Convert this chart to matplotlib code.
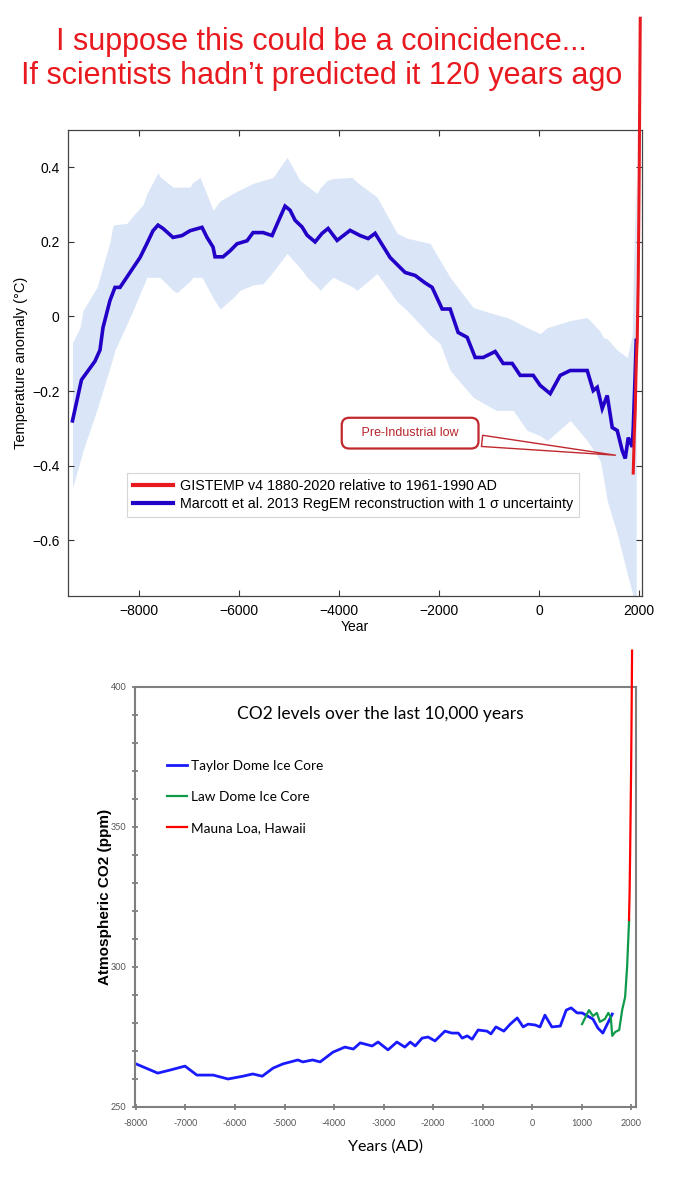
import matplotlib
matplotlib.use("Agg")
import matplotlib.pyplot as plt
import numpy as np

# --- Marcott et al. 2013 reconstruction ---
marcott_year = [-9330, -9150, -8880, -8780, -8720, -8580, -8480, -8380, -8180, -7980,
                -7840, -7720, -7620, -7520, -7320, -7140, -6980, -6740, -6640, -6520,
                -6480, -6320, -6180, -6040, -5840, -5720, -5520, -5340, -5180, -5080,
                -4980, -4880, -4740, -4640, -4480, -4340, -4220, -4040, -3780, -3580,
                -3420, -3280, -2980, -2680, -2480, -2280, -2140, -1940, -1780, -1620,
                -1440, -1280, -1120, -880, -720, -540, -380, -120, 20, 220,
                420, 620, 960, 1080, 1160, 1260, 1360, 1460, 1560, 1660,
                1720, 1780, 1860, 1880, 1920, 1940]
marcott_temp = [-0.28, -0.17, -0.12, -0.09, -0.03, 0.043, 0.078, 0.078, 0.118, 0.158,
                0.196, 0.23, 0.245, 0.236, 0.212, 0.217, 0.23, 0.239, 0.212, 0.186,
                0.16, 0.16, 0.176, 0.195, 0.203, 0.225, 0.225, 0.217, 0.266, 0.296,
                0.285, 0.258, 0.24, 0.218, 0.2, 0.223, 0.236, 0.204, 0.231, 0.217,
                0.209, 0.223, 0.158, 0.118, 0.11, 0.09, 0.078, 0.02, 0.02, -0.043,
                -0.056, -0.11, -0.11, -0.094, -0.126, -0.126, -0.158, -0.158, -0.185, -0.207,
                -0.158, -0.145, -0.145, -0.199, -0.19, -0.247, -0.212, -0.298, -0.306, -0.36,
                -0.381, -0.325, -0.35, -0.30, -0.15, -0.064]

band_year = [-9330, -9180, -9120, -8840, -8580, -8520, -8480, -8240, -8120, -7920,
             -7840, -7620, -7580, -7320, -7240, -6980, -6920, -6780, -6740, -6520,
             -6380, -6120, -5980, -5720, -5520, -5320, -5040, -4780, -4640, -4440,
             -4380, -4240, -4120, -3740, -3640, -3240, -2840, -2640, -2180, -1980,
             -1780, -1320, -860, -640, -520, -240, 20, 160, 620, 960,
             1220, 1280, 1360, 1560, 1760, 1860, 1880, 1920, 1940]
band_upper = [-0.07, -0.03, 0.016, 0.078, 0.20, 0.244, 0.246, 0.25, 0.27, 0.30,
              0.33, 0.386, 0.375, 0.347, 0.347, 0.347, 0.36, 0.373, 0.36, 0.285,
              0.31, 0.33, 0.34, 0.357, 0.365, 0.373, 0.427, 0.365, 0.35, 0.33,
              0.345, 0.365, 0.37, 0.373, 0.36, 0.32, 0.223, 0.21, 0.196, 0.15,
              0.105, 0.024, 0.005, -0.003, -0.01, -0.03, -0.046, -0.03, -0.011, -0.003,
              -0.04, -0.056, -0.06, -0.09, -0.11, -0.05, 0.105, 0.30, 0.373]
band_lower = [-0.46, -0.39, -0.36, -0.25, -0.137, -0.11, -0.09, -0.02, 0.016, 0.08,
              0.105, 0.105, 0.105, 0.07, 0.064, 0.095, 0.105, 0.105, 0.105, 0.05,
              0.02, 0.05, 0.07, 0.085, 0.088, 0.12, 0.169, 0.13, 0.105, 0.08,
              0.07, 0.09, 0.105, 0.08, 0.07, 0.115, 0.04, 0.016, -0.05, -0.073,
              -0.145, -0.217, -0.252, -0.252, -0.252, -0.306, -0.32, -0.333, -0.279, -0.333,
              -0.387, -0.43, -0.494, -0.583, -0.69, -0.74, -0.76, -0.78, -0.78]

# --- GISTEMP v4 (drawn over the top of the axes in the original) ---
gistemp_year = [1880, 1900, 1920, 1940, 1960, 1980, 2000, 2020]
gistemp_temp = [-0.42, -0.32, -0.25, -0.12, -0.06, 0.10, 0.40, 0.80]

# --- CO2 records ---
taylor_year = [-8000, -7560, -7310, -7010, -6770, -6440, -6140, -5840, -5640, -5450,
               -5230, -5030, -4730, -4630, -4430, -4280, -4020, -3780, -3610, -3470,
               -3230, -3110, -2910, -2730, -2570, -2460, -2360, -2220, -2100, -1960,
               -1760, -1620, -1490, -1410, -1310, -1210, -1090, -910, -830, -730,
               -570, -440, -300, -180, -80, 60, 160, 260, 400, 570,
               690, 790, 910, 1010, 1230, 1330, 1430, 1620]
taylor_co2 = [265.4, 262.1, 263.2, 264.6, 261.4, 261.4, 260.0, 261.0, 261.8, 261.0,
              263.9, 265.4, 266.8, 266.1, 266.8, 266.1, 269.6, 271.4, 270.7, 272.9,
              271.8, 273.2, 270.4, 273.2, 271.4, 273.2, 271.8, 274.6, 275.0, 273.6,
              277.1, 276.4, 276.4, 274.6, 275.4, 274.2, 277.5, 277.1, 276.1, 278.6,
              277.1, 279.6, 281.8, 278.6, 279.6, 279.3, 278.6, 282.8, 278.6, 278.9,
              284.6, 285.4, 283.6, 283.6, 281.4, 278.2, 276.4, 283.2]

law_year = [1010, 1150, 1230, 1310, 1370, 1470, 1540, 1590, 1620, 1680,
            1760, 1820, 1880, 1920, 1960]
law_co2 = [279.6, 284.6, 282.5, 283.6, 280.4, 281.4, 283.6, 282.1, 275.4, 276.8,
           277.5, 284.6, 289.3, 300.0, 316.8]

mauna_year = [1958, 1970, 1980, 1990, 2000, 2010, 2020]
mauna_co2 = [316.8, 326, 339, 354, 369, 389, 413]

co2_xticks = [-8000, -7000, -6000, -5000, -4000, -3000, -2000, -1000, 0, 1000, 2000]
co2_xlabels = ['-8000', '-7000', '-6000', '-5000', '-4000', '-3000', '-2000', '-1000',
               '0', '1000', '2000']

plt.rcParams['font.family'] = ['Liberation Sans', 'DejaVu Sans']
calibri_like = ['Lato', 'DejaVu Sans']

fig = plt.figure(figsize=(6.79, 12), dpi=100)
red = '#e8191f'

fig.text(0.474, 1 - 42 / 1200, 'I suppose this could be a coincidence...',
         color=red, fontsize=22, ha='center', va='center')
fig.text(0.474, 1 - 76 / 1200, 'If scientists hadn\u2019t predicted it 120 years ago',
         color=red, fontsize=22, ha='center', va='center')

# ---------------- top chart ----------------
ax = fig.add_axes([0.1001, 0.5033, 0.8454, 0.3883])
ax.fill_between(band_year, band_lower, band_upper, color='#dae6f7', lw=0)
l_blue, = ax.plot(marcott_year, marcott_temp, color='#2200c8', lw=2.6,
                  solid_joinstyle='miter')
l_red, = ax.plot(gistemp_year, gistemp_temp, color=red, lw=2.2, clip_on=False,
                 zorder=5)
ax.set_xlim(-9420, 2055)
ax.set_ylim(-0.75, 0.5)
ax.set_xticks([-8000, -6000, -4000, -2000, 0, 2000])
ax.set_xticklabels(['\u22128000', '\u22126000', '\u22124000', '\u22122000', '0', '2000'])
ax.set_yticks([-0.6, -0.4, -0.2, 0, 0.2, 0.4])
ax.set_yticklabels(['\u22120.6', '\u22120.4', '\u22120.2', '0', '0.2', '0.4'])
ax.tick_params(direction='in', top=True, right=True, length=4, labelsize=10,
               color='#333333', pad=6)
for s in ax.spines.values():
    s.set_color('#444444')
    s.set_linewidth(0.9)
ax.set_xlabel('Year', fontsize=10, labelpad=1)
ax.set_ylabel('Temperature anomaly (\u00b0C)', fontsize=10.5)
ax.yaxis.set_label_coords(-0.07, 0.5)

leg = ax.legend([l_red, l_blue],
                ['GISTEMP v4 1880-2020 relative to 1961-1990 AD',
                 'Marcott et al. 2013 RegEM reconstruction with 1 \u03c3 uncertainty'],
                loc='upper left', bbox_to_anchor=(0.103, 0.264), fontsize=10.3,
                handlelength=2.8, fancybox=False, borderaxespad=0, labelspacing=0.3,
                borderpad=0.4, handletextpad=0.5)
leg.get_frame().set_edgecolor('#cccccc')
leg.get_frame().set_linewidth(0.8)
for h in leg.legend_handles:
    h.set_linewidth(3)

ax.annotate('   Pre-Industrial low   ', xy=(1580, -0.373), xytext=(-2580, -0.313),
            fontsize=9, color='#b8262c', ha='center', va='center', zorder=6,
            bbox=dict(boxstyle='round,pad=0.75,rounding_size=0.6', fc='white',
                      ec='#c0282d', lw=1.6),
            arrowprops=dict(arrowstyle='wedge,tail_width=0.9,shrink_factor=0.5',
                            fc='white', ec='#c0282d', lw=1.0))

# ---------------- bottom chart ----------------
bx = fig.add_axes([0.1988, 0.0775, 0.7379, 0.35])
bx.plot(taylor_year, taylor_co2, color='#1a1aff', lw=2.0, label='Taylor Dome Ice Core')
bx.plot(law_year, law_co2, color='#0e9a4a', lw=1.6, label='Law Dome Ice Core')
bx.plot(mauna_year, mauna_co2, color='#ff0000', lw=1.6, clip_on=False,
        label='Mauna Loa, Hawaii', zorder=5)
bx.set_xlim(-8020, 2100)
bx.set_ylim(250, 400)
bx.set_xticks(co2_xticks)
bx.set_xticklabels(co2_xlabels)
bx.set_yticks([250, 300, 350, 400])
bx.set_yticks(np.arange(260, 400, 10), minor=True)
bx.tick_params(which='both', direction='inout', length=5, width=1.2,
               color='#777777', labelsize=6.5, labelcolor='#555555')
bx.tick_params(axis='x', pad=6)
for s in bx.spines.values():
    s.set_color('#7f7f7f')
    s.set_linewidth(1.5)
for t in bx.get_xticklabels() + bx.get_yticklabels():
    t.set_family(calibri_like)

bx.text(0.489, 0.935, 'CO2 levels over the last 10,000 years', transform=bx.transAxes,
        fontsize=12.5, family=calibri_like, ha='center', va='center')
bx.set_xlabel('Years (AD)', fontsize=11.5, family=calibri_like, labelpad=8)
bx.set_ylabel('Atmospheric CO2 (ppm)', fontsize=11, fontweight='bold')
bx.yaxis.set_label_coords(-0.046, 0.5)

bleg = bx.legend(loc='upper left', bbox_to_anchor=(0.064, 0.826), frameon=False,
                 handlelength=1.5, handletextpad=0.25, labelspacing=1.4,
                 borderaxespad=0, borderpad=0,
                 prop={'family': calibri_like, 'size': 9.8})

fig.savefig('out.png', dpi=100)
